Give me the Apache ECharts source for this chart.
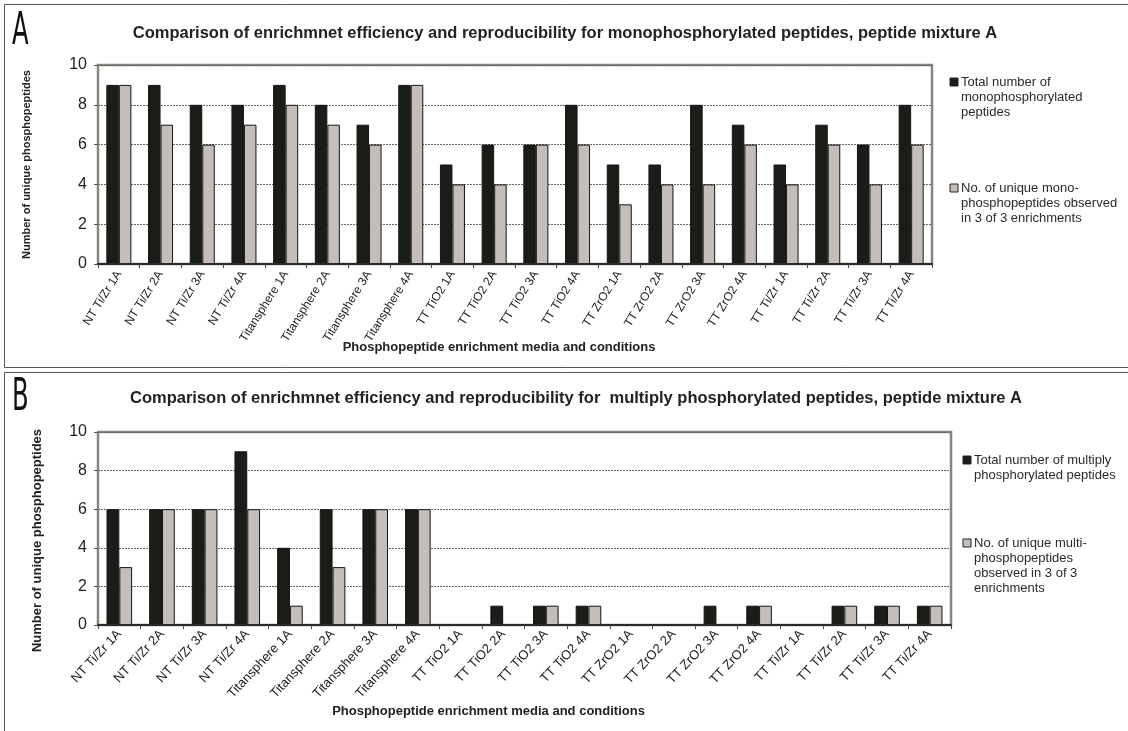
<!DOCTYPE html>
<html>
<head>
<meta charset="utf-8">
<title>Phosphopeptide enrichment comparison</title>
<script src="https://cdn.jsdelivr.net/npm/echarts@6/dist/echarts.min.js"></script>
<style>
  html, body { margin: 0; padding: 0; background: #ffffff; }
  #chart { width: 1128px; height: 731px; }
</style>
</head>
<body>
<div id="chart"></div>
<script>
// Enrichment media / conditions (shared by both panels)
const categories = [
  'NT Ti/Zr 1A', 'NT Ti/Zr 2A', 'NT Ti/Zr 3A', 'NT Ti/Zr 4A',
  'Titansphere 1A', 'Titansphere 2A', 'Titansphere 3A', 'Titansphere 4A',
  'TT TiO2 1A', 'TT TiO2 2A', 'TT TiO2 3A', 'TT TiO2 4A',
  'TT ZrO2 1A', 'TT ZrO2 2A', 'TT ZrO2 3A', 'TT ZrO2 4A',
  'TT Ti/Zr 1A', 'TT Ti/Zr 2A', 'TT Ti/Zr 3A', 'TT Ti/Zr 4A'
];

// Panel A: monophosphorylated peptides
const monoTotal  = [9, 9, 8, 8, 9, 8, 7, 9, 5, 6, 6, 8, 5, 5, 8, 7, 5, 7, 6, 8];
const monoUnique = [9, 7, 6, 7, 8, 7, 6, 9, 4, 4, 6, 6, 3, 4, 4, 6, 4, 6, 4, 6];

// Panel B: multiply phosphorylated peptides
const multiTotal  = [6, 6, 6, 9, 4, 6, 6, 6, 0, 1, 1, 1, 0, 0, 1, 1, 0, 1, 1, 1];
const multiUnique = [3, 6, 6, 6, 1, 3, 6, 6, 0, 0, 1, 1, 0, 0, 0, 1, 0, 1, 1, 1];

// Value axis ticks
const yMin = 0, yMax = 10, yStep = 2;

// Texts
const titleA = 'Comparison of enrichmnet efficiency and reproducibility for monophosphorylated peptides, peptide mixture A';
const titleB = 'Comparison of enrichmnet efficiency and reproducibility for  multiply phosphorylated peptides, peptide mixture A';
const yName = 'Number of unique phosphopeptides';
const xName = 'Phosphopeptide enrichment media and conditions';
const legendA = [
  ['Total number of', 'monophosphorylated', 'peptides'],
  ['No. of unique mono-', 'phosphopeptides observed', 'in 3 of 3 enrichments']
];
const legendB = [
  ['Total number of multiply', 'phosphorylated peptides'],
  ['No. of unique multi-', 'phosphopeptides', 'observed in 3 of 3', 'enrichments']
];

const DARK = '#1b1b17';
const LIGHT = '#c5bdb9';
const FRAME = '#8a847e';
const TEXT = '#222222';
const FONT = 'Arial, "Liberation Sans", Helvetica, sans-serif';

const chart = echarts.init(document.getElementById('chart'), null, { renderer: 'canvas' });

function xAxisFor(gridIndex, rotate, fontSize, margin, nameGap, namePad) {
  return {
    type: 'category',
    gridIndex: gridIndex,
    data: categories,
    z: 5,
    axisLine: { show: true, lineStyle: { color: '#2a2a2a', width: 2 } },
    axisTick: { show: true, length: 4, lineStyle: { color: '#444' } },
    axisLabel: { rotate: rotate, fontSize: fontSize, color: TEXT, margin: margin, fontFamily: FONT, interval: 0 },
    name: xName,
    nameLocation: 'middle',
    nameGap: nameGap,
    nameMoveOverlap: false,
    nameTextStyle: { fontWeight: 'bold', fontSize: 13, color: TEXT, fontFamily: FONT, padding: namePad }
  };
}

function yAxisFor(gridIndex, nameGap, nameFont, namePad) {
  return {
    type: 'value',
    gridIndex: gridIndex,
    min: yMin, max: yMax, interval: yStep,
    axisLine: { show: true, lineStyle: { color: FRAME, width: 2 } },
    axisTick: { show: true, length: 4, lineStyle: { color: '#555' } },
    axisLabel: { fontSize: 16, color: TEXT, margin: 11, fontFamily: FONT },
    splitLine: { show: true, lineStyle: { color: '#666', type: [2, 1], width: 1 } },
    name: yName,
    nameLocation: 'middle',
    nameGap: nameGap,
    nameMoveOverlap: false,
    nameTextStyle: { fontWeight: 'bold', fontSize: nameFont, color: TEXT, fontFamily: FONT, padding: namePad }
  };
}

function barSeries(name, data, color, xi, yi) {
  return {
    type: 'bar',
    name: name,
    data: data,
    xAxisIndex: xi,
    yAxisIndex: yi,
    barGap: '0%',
    barCategoryGap: '40%',
    itemStyle: { color: color, borderColor: '#151515', borderWidth: 1 },
    emphasis: { disabled: true },
    animation: false
  };
}

// Legend drawn as square swatch + multi-line text; y is the first line's centre
function legendBlock(x, y, lines, color, lineH) {
  return [
    { type: 'rect', shape: { x: x, y: y - 4, width: 8, height: 8 },
      style: { fill: color, stroke: '#222', lineWidth: 1 } },
    { type: 'text', x: x + 11, y: y - lineH / 2,
      style: { text: lines.join('\n'), fill: '#2a2a2a', font: '13px ' + FONT, lineHeight: lineH, textVerticalAlign: 'top' } }
  ];
}

const graphics = [
  // panel frames
  { type: 'rect', shape: { x: 4.5, y: 4.5, width: 1130, height: 363 }, style: { fill: 'none', stroke: '#555', lineWidth: 1 }, z: 0 },
  { type: 'rect', shape: { x: 4.5, y: 372.5, width: 1130, height: 400 }, style: { fill: 'none', stroke: '#555', lineWidth: 1 }, z: 0 },
  // panel letters
  { type: 'text', x: 12, y: 10, scaleX: 0.6, style: { text: 'A', fill: '#111', font: '45px "DejaVu Sans Condensed", ' + FONT, textVerticalAlign: 'top' } },
  { type: 'text', x: 12, y: 376, scaleX: 0.6, style: { text: 'B', fill: '#111', font: '45px "DejaVu Sans Condensed", ' + FONT, textVerticalAlign: 'top' } },
  // titles
  { type: 'text', x: 565, y: 33, style: { text: titleA, fill: TEXT, font: 'bold 16.5px ' + FONT, textAlign: 'center', textVerticalAlign: 'middle' } },
  { type: 'text', x: 576, y: 398, style: { text: titleB, fill: TEXT, font: 'bold 16.5px ' + FONT, textAlign: 'center', textVerticalAlign: 'middle' } }
]
  .concat(legendBlock(950, 82, legendA[0], DARK, 15))
  .concat(legendBlock(950, 188, legendA[1], LIGHT, 15))
  .concat(legendBlock(963, 460, legendB[0], DARK, 15))
  .concat(legendBlock(963, 543, legendB[1], LIGHT, 15));

const option = {
  backgroundColor: '#ffffff',
  animation: false,
  textStyle: { fontFamily: FONT },
  grid: [
    { left: 98, top: 65, width: 834, height: 199, show: true, borderColor: FRAME, borderWidth: 2.5, backgroundColor: 'transparent' },
    { left: 98, top: 432, width: 853, height: 193, show: true, borderColor: FRAME, borderWidth: 2.5, backgroundColor: 'transparent' }
  ],
  xAxis: [
    xAxisFor(0, 58, 12, 8, 77, [0, 32, 0, 0]),
    xAxisFor(1, 47, 13, 7, 80, [0, 72, 0, 0])
  ],
  yAxis: [
    yAxisFor(0, 66, 11, [0, 0, 0, 0]),
    yAxisFor(1, 54, 13, [0, 24, 0, 0])
  ],
  series: [
    barSeries('Total number of monophosphorylated peptides', monoTotal, DARK, 0, 0),
    barSeries('No. of unique monophosphopeptides observed in 3 of 3 enrichments', monoUnique, LIGHT, 0, 0),
    barSeries('Total number of multiply phosphorylated peptides', multiTotal, DARK, 1, 1),
    barSeries('No. of unique multiphosphopeptides observed in 3 of 3 enrichments', multiUnique, LIGHT, 1, 1)
  ],
  graphic: graphics
};

chart.setOption(option);
</script>
</body>
</html>
